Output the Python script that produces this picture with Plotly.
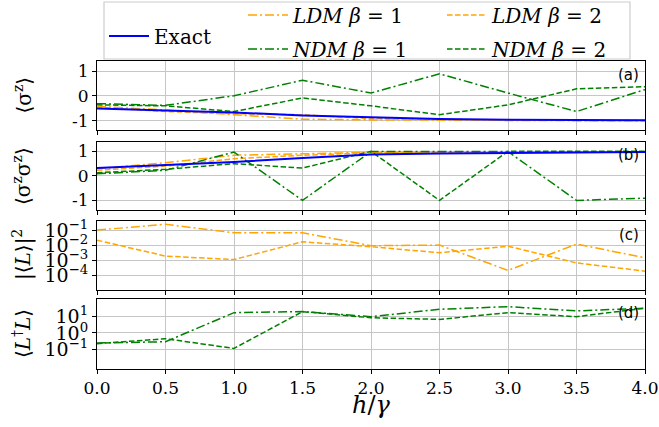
import plotly.graph_objects as go

# ---------------- data ----------------
h = [0.0, 0.5, 1.0, 1.5, 2.0, 2.5, 3.0, 3.5, 4.0]

# panel (a): <sigma^z>
exact_a = [-0.51, -0.59, -0.67, -0.79, -0.87, -0.93, -0.96, -0.97, -0.98]
ldm1_a = [-0.42, -0.57, -0.76, -0.94, -0.97, -0.99, -1.0, -1.0, -1.0]
ldm2_a = [-0.45, -0.63, -0.72, -0.76, -0.92, -0.96, -0.98, -0.99, -0.99]
ndm1_a = [-0.31, -0.38, 0.01, 0.64, 0.12, 0.9, 0.12, -0.63, 0.26]
ndm2_a = [-0.36, -0.40, -0.63, -0.08, -0.40, -0.76, -0.36, 0.29, 0.38]

# panel (b): <sigma^z sigma^z>
exact_b = [0.31, 0.42, 0.56, 0.72, 0.86, 0.90, 0.93, 0.95, 0.96]
ldm1_b = [0.28, 0.53, 0.83, 0.89, 0.95, 0.96, 0.96, 0.97, 0.97]
ldm2_b = [0.22, 0.39, 0.69, 0.83, 0.93, 0.94, 0.95, 0.95, 0.96]
ndm1_b = [0.08, 0.22, 0.96, -1.0, 0.98, 0.98, 0.98, -1.0, -0.91]
ndm2_b = [0.12, 0.26, 0.49, 0.31, 0.99, -1.0, 0.99, 0.99, 0.99]

# panel (c): |<L>|^2
ldm1_c = [0.1, 0.24, 0.066, 0.066, 0.0091, 0.01, 0.00021, 0.0117, 0.00145]
ldm2_c = [0.0214, 0.00186, 0.0011, 0.0166, 0.0078, 0.0031, 0.0085, 0.00066, 0.000186]

# panel (d): <L^dagger L>
ndm1_d = [0.25, 0.30, 15.8, 18.2, 9.1, 25.0, 36.0, 20.0, 29.0]
ndm2_d = [0.23, 0.45, 0.12, 18.2, 7.9, 6.3, 15.8, 9.1, 29.0]

x_ticks = [0.0, 0.5, 1.0, 1.5, 2.0, 2.5, 3.0, 3.5, 4.0]
lin_ticks = [-1, 0, 1]
lin_ticktext = ["-1", "0", "1"]
c_ticks = [1e-4, 1e-3, 1e-2, 1e-1]
c_ticktext = ["10<sup>−4</sup>", "10<sup>−3</sup>", "10<sup>−2</sup>", "10<sup>−1</sup>"]
d_ticks = [1e-1, 1e0, 1e1]
d_ticktext = ["10<sup>−1</sup>", "10<sup>0</sup>", "10<sup>1</sup>"]

# ---------------- styles ----------------
BLUE = "#0000ff"
ORANGE = "#ffa500"
GREEN = "#008000"
DASHDOT = "9px,3px,2px,3px"
DASHED = "5.5px,2.5px"
SERIF = "DejaVu Serif"
GRID = "#c6c6c6"

fig = go.Figure()

def add(xs, ys, name, color, dash, ax, legend, show, width=1.5):
    fig.add_trace(go.Scatter(
        x=xs, y=ys, mode="lines", name=name,
        line=dict(color=color, dash=dash, width=width),
        xaxis="x" + ("" if ax == 1 else str(ax)),
        yaxis="y" + ("" if ax == 1 else str(ax)),
        legend=legend, legendgroup=name, showlegend=show,
    ))

LDM1 = "<i>LDM β</i> = 1"
LDM2 = "<i>LDM β</i> = 2"
NDM1 = "<i>NDM β</i> = 1"
NDM2 = "<i>NDM β</i> = 2"

# panel a
add(h, ldm1_a, LDM1, ORANGE, DASHDOT, 1, "legend2", True)
add(h, ndm1_a, NDM1, GREEN, DASHDOT, 1, "legend2", True)
add(h, ldm2_a, LDM2, ORANGE, DASHED, 1, "legend3", True)
add(h, ndm2_a, NDM2, GREEN, DASHED, 1, "legend3", True)
add(h, exact_a, "Exact", BLUE, "solid", 1, "legend", True, 2)
# panel b
add(h, ldm1_b, LDM1, ORANGE, DASHDOT, 2, "legend2", False)
add(h, ldm2_b, LDM2, ORANGE, DASHED, 2, "legend3", False)
add(h, ndm1_b, NDM1, GREEN, DASHDOT, 2, "legend2", False)
add(h, ndm2_b, NDM2, GREEN, DASHED, 2, "legend3", False)
add(h, exact_b, "Exact", BLUE, "solid", 2, "legend", False, 2)
# panel c
add(h, ldm1_c, LDM1, ORANGE, DASHDOT, 3, "legend2", False)
add(h, ldm2_c, LDM2, ORANGE, DASHED, 3, "legend3", False)
# panel d
add(h, ndm1_d, NDM1, GREEN, DASHDOT, 4, "legend2", False)
add(h, ndm2_d, NDM2, GREEN, DASHED, 4, "legend3", False)

# ---------------- layout ----------------
W, H = 659, 427
ML, MR, MT, MB = 97, 14, 0, 58
PH = H - MT - MB

def ypaper(py):
    return (H - MB - py) / PH

def xpaper(px):
    return (px - ML) / (W - ML - MR)

domains = {
    1: [ypaper(130), ypaper(61)],
    2: [ypaper(210), ypaper(141.7)],
    3: [ypaper(290), ypaper(221)],
    4: [ypaper(369), ypaper(299.3)],
}

tickfont = dict(family=SERIF, size=17, color="black")
logfont = dict(family=SERIF, size=19, color="black")
common_x = dict(range=[0, 4], tickvals=x_ticks, showgrid=True, gridcolor=GRID, gridwidth=1,
                showline=True, linecolor="black", linewidth=1, mirror=True,
                ticks="outside", ticklen=4, tickcolor="black", zeroline=False)
common_y = dict(showgrid=True, gridcolor=GRID, gridwidth=1, showline=True, linecolor="black",
                linewidth=1, mirror=True, ticks="outside", ticklen=4, tickcolor="black",
                zeroline=False, tickfont=tickfont)

layout = dict(
    width=W, height=H,
    margin=dict(l=ML, r=MR, t=MT, b=MB, autoexpand=False),
    paper_bgcolor="white", plot_bgcolor="white",
    showlegend=True,
)
for i in range(1, 5):
    sx = "" if i == 1 else str(i)
    xa = dict(common_x, domain=[0, 1], anchor="y" + sx,
              showticklabels=(i == 4), tickformat=".1f", tickfont=tickfont)
    if i > 1:
        xa["matches"] = "x"
    layout["xaxis" + sx] = xa
    ya = dict(common_y, domain=domains[i], anchor="x" + sx)
    if i in (1, 2):
        ya.update(range=[-1.38, 1.42] if i == 1 else [-1.39, 1.38], tickvals=lin_ticks, ticktext=lin_ticktext)
    elif i == 3:
        ya.update(type="log", range=[-4.98, -0.4], tickvals=c_ticks, ticktext=c_ticktext, tickfont=logfont)
    else:
        ya.update(type="log", range=[-2.14, 1.99], tickvals=d_ticks, ticktext=d_ticktext, tickfont=logfont)
    layout["yaxis" + sx] = ya

legfont = dict(family=SERIF, size=20, color="black")
layout["legend"] = dict(x=xpaper(104), y=ypaper(36), xanchor="left", yanchor="middle",
                        font=legfont, bgcolor="rgba(0,0,0,0)", itemwidth=40)
layout["legend2"] = dict(x=xpaper(243), y=ypaper(32), xanchor="left", yanchor="middle",
                         font=legfont, bgcolor="rgba(0,0,0,0)", tracegroupgap=5, itemwidth=40)
layout["legend3"] = dict(x=xpaper(442), y=ypaper(32), xanchor="left", yanchor="middle",
                         font=legfont, bgcolor="rgba(0,0,0,0)", tracegroupgap=5, itemwidth=40)

fig.update_layout(**layout)

# legend frame
fig.add_shape(type="rect", xref="paper", yref="paper",
              x0=xpaper(104), x1=xpaper(630), y0=ypaper(59), y1=ypaper(2),
              line=dict(color="#cccccc", width=1.2), fillcolor="rgba(255,255,255,0.8)", layer="below")

# y-axis titles
ytitles = [
    ("⟨σ<sup>z</sup>⟩", 95.5),
    ("⟨σ<sup>z</sup>σ<sup>z</sup>⟩", 176),
    ("|⟨<i>L</i>⟩|<sup>2</sup>", 255),
    ("⟨<i>L</i><sup>†</sup><i>L</i>⟩", 334),
]
for txt, py in ytitles:
    fig.add_annotation(text=txt, xref="paper", yref="paper", x=xpaper(22), y=ypaper(py),
                       xanchor="center", yanchor="middle", textangle=-90, showarrow=False,
                       font=dict(family=SERIF, size=20, color="black"))

# panel labels
for i, lab in enumerate(["(a)", "(b)", "(c)", "(d)"], start=1):
    sx = "" if i == 1 else str(i)
    fig.add_annotation(text=lab, xref="x" + sx + " domain", yref="y" + sx + " domain",
                       x=0.993, y=0.8, xanchor="right", yanchor="middle", showarrow=False,
                       font=dict(family="DejaVu Sans", size=15, color="black"))

# x-axis title
fig.add_annotation(text="<i>h</i>/<i>γ</i>", xref="paper", yref="paper", x=0.5, y=ypaper(405),
                   xanchor="center", yanchor="middle", showarrow=False,
                   font=dict(family=SERIF, size=24, color="black"))

fig.write_html("out.html", config={"displayModeBar": False},
               post_script="document.body.style.margin='0px';")
